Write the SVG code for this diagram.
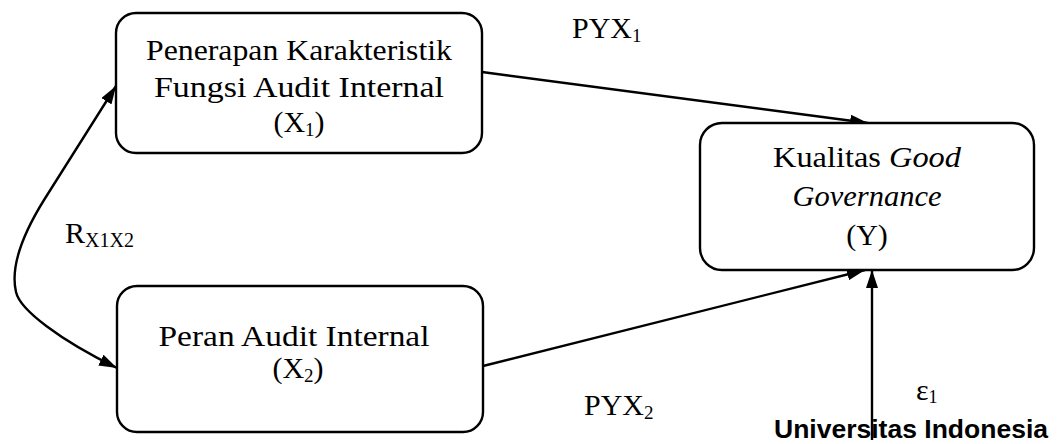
<svg xmlns="http://www.w3.org/2000/svg" width="1057" height="444" viewBox="0 0 1057 444">
<style>
.box{fill:#fff;stroke:#000;stroke-width:2.4}
.t{font-family:"Liberation Serif","Times New Roman",serif;font-size:30px;fill:#000}
.c{text-anchor:middle}
.con{fill:none;stroke:#000;stroke-width:2.4}
.ui{font-family:"Liberation Sans",Arial,sans-serif;font-size:26px;font-weight:bold;fill:#000}
</style>
<defs>
<marker id="ah" viewBox="0 0 18 12" refX="18" refY="6" markerWidth="18" markerHeight="12" markerUnits="userSpaceOnUse" orient="auto-start-reverse">
<path d="M0,0 L18,6 L0,12 Z" fill="#000"/>
</marker>
</defs>
<g id="connectors">
<line class="con" x1="482" y1="72" x2="868" y2="123" marker-end="url(#ah)"/>
<line class="con" x1="483" y1="366" x2="865" y2="270" marker-end="url(#ah)"/>
<line class="con" x1="872" y1="440" x2="872" y2="270" marker-end="url(#ah)"/>
<path class="con" d="M116,86 L44,200 Q8,258 16,292 C20,310 60,340 117,368" marker-start="url(#ah)" marker-end="url(#ah)"/>
</g>
<g id="node-x1">
<rect class="box" x="116" y="13" width="366" height="140" rx="20"/>
<text class="t c" x="299" y="60" textLength="306" lengthAdjust="spacingAndGlyphs">Penerapan Karakteristik</text>
<text class="t c" x="299" y="97" textLength="290" lengthAdjust="spacingAndGlyphs">Fungsi Audit Internal</text>
<text class="t c" x="299" y="132">(X<tspan font-size="19" dy="4">1</tspan><tspan dy="-4">)</tspan></text>
</g>
<g id="node-x2">
<rect class="box" x="117" y="286" width="366" height="146" rx="20"/>
<text class="t c" x="294" y="346" textLength="271" lengthAdjust="spacingAndGlyphs">Peran Audit Internal</text>
<text class="t c" x="298" y="378">(X<tspan font-size="19" dy="4">2</tspan><tspan dy="-4">)</tspan></text>
</g>
<g id="node-y">
<rect class="box" x="700" y="123" width="334" height="147" rx="22"/>
<text class="t c" x="867" y="167" textLength="188" lengthAdjust="spacingAndGlyphs">Kualitas <tspan font-style="italic">Good</tspan></text>
<text class="t c" x="867" y="206" font-style="italic" textLength="149" lengthAdjust="spacingAndGlyphs">Governance</text>
<text class="t c" x="867" y="245">(Y)</text>
</g>
<g id="labels">
<text class="t" x="572" y="38">PYX<tspan font-size="19" dy="4">1</tspan></text>
<text class="t" x="584" y="415">PYX<tspan font-size="19" dy="4">2</tspan></text>
<text class="t" x="65" y="243">R<tspan font-size="20" dy="4">X1X2</tspan></text>
<text class="t" x="916" y="400" font-size="26">ε<tspan font-size="18" dy="3">1</tspan></text>
<text class="ui" x="774" y="438" textLength="274" lengthAdjust="spacingAndGlyphs">Universitas Indonesia</text>
</g>
</svg>
